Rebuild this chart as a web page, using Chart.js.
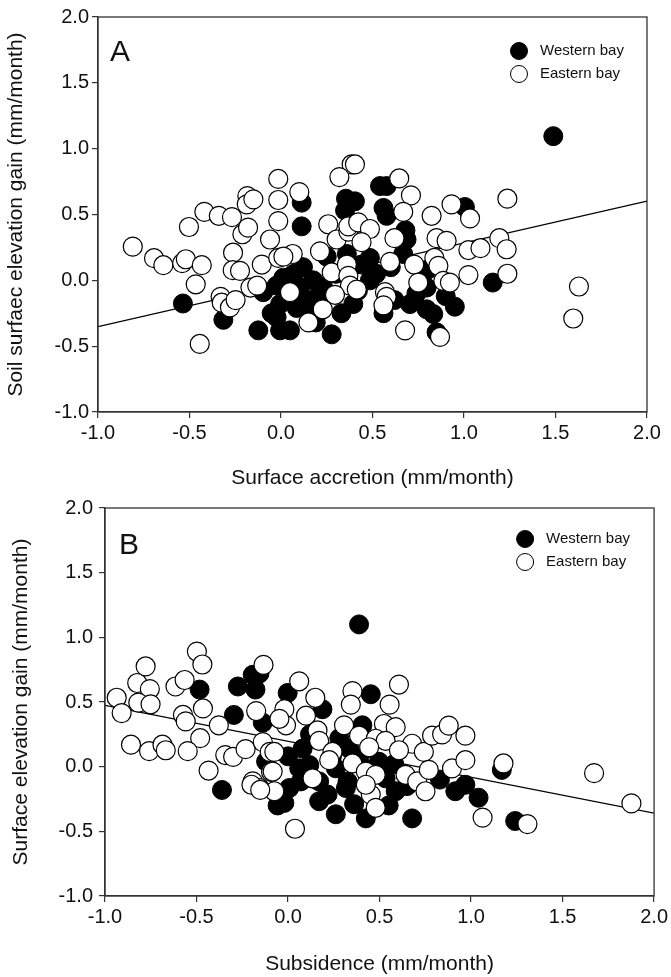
<!DOCTYPE html>
<html>
<head>
<meta charset="utf-8">
<title>Elevation gain scatter</title>
<script src="https://cdn.jsdelivr.net/npm/chart.js@4.4.1/dist/chart.umd.min.js"></script>
<style>
  html, body { margin: 0; padding: 0; background: #fff; }
  body { width: 671px; height: 977px; position: relative; overflow: hidden; }
  .panel { position: absolute; left: 0; width: 671px; }
  #panelA { top: 0; height: 492px; }
  #panelB { top: 490px; height: 487px; }
</style>
</head>
<body>
<div class="panel" id="panelA"><canvas id="chartA" width="671" height="492"></canvas></div>
<div class="panel" id="panelB"><canvas id="chartB" width="671" height="487"></canvas></div>
<script>
// Panel A: surface accretion (x) vs soil surface elevation gain (y)
const westernA = [
  [-0.536, -0.176], [-0.315, -0.30], [-0.124, -0.38], [-0.097, -0.09], [-0.051, -0.25],
  [-0.024, -0.04], [-0.005, -0.38], [0.541, 0.716], [0.577, 0.716], [0.355, 0.62],
  [0.404, 0.60], [0.113, 0.59], [0.56, 0.55], [0.577, 0.49], [0.113, 0.41],
  [0.686, 0.31], [1.005, 0.557], [0.013, 0.02], [0.12, 0.10], [0.176, 0.0],
  [0.104, -0.05], [0.213, -0.10], [-0.005, -0.18], [0.086, -0.21], [0.176, -0.256],
  [0.049, -0.38], [0.277, -0.41], [-0.024, -0.28], [0.395, -0.18], [0.486, 0.17],
  [0.52, 0.05], [0.486, 0.0], [0.668, 0.2], [0.705, -0.18], [0.796, -0.22],
  [0.832, -0.256], [0.85, -0.395], [0.74, -0.10], [0.796, -0.055], [1.488, 1.095],
  [1.157, -0.017], [0.05, -0.12], [0.15, -0.15], [0.23, -0.05], [0.30, 0.05],
  [0.33, -0.25], [0.44, 0.12], [0.60, 0.10], [0.62, -0.15], [0.90, -0.12],
  [0.95, -0.20], [0.25, 0.18], [0.42, -0.08], [0.07, 0.05], [0.19, -0.32],
  [0.56, -0.25], [0.36, 0.20], [0.68, 0.38], [0.80, 0.08], [0.35, 0.53]
];
const easternA = [
  [-0.81, 0.256], [-0.694, 0.168], [-0.643, 0.115], [-0.54, 0.13], [-0.52, 0.16],
  [-0.433, 0.115], [-0.503, 0.405], [-0.419, 0.52], [-0.34, 0.49], [-0.268, 0.48],
  [-0.466, -0.03], [-0.444, -0.483], [-0.33, -0.125], [-0.324, -0.17], [-0.279, -0.206],
  [-0.248, -0.15], [-0.211, 0.35], [-0.18, 0.40], [-0.184, 0.64], [-0.187, 0.577],
  [-0.151, 0.615], [-0.262, 0.21], [-0.264, 0.077], [-0.224, 0.072], [-0.167, -0.055],
  [-0.13, -0.04], [-0.105, 0.12], [-0.06, 0.31], [-0.015, 0.77], [-0.015, 0.61],
  [-0.015, 0.45], [-0.015, 0.17], [0.386, 0.88], [0.404, 0.88], [0.319, 0.784],
  [0.646, 0.774], [0.71, 0.645], [0.668, 0.52], [0.10, 0.67], [0.258, 0.426],
  [0.304, 0.31], [0.368, 0.37], [0.368, 0.41], [0.422, 0.44], [0.486, 0.39],
  [0.44, 0.29], [0.213, 0.22], [0.064, 0.20], [0.013, 0.18], [0.62, 0.32],
  [0.823, 0.49], [0.932, 0.577], [0.85, 0.32], [0.905, 0.30], [0.596, 0.14],
  [0.728, 0.12], [0.838, 0.17], [0.86, 0.11], [0.277, 0.06], [0.36, 0.12],
  [0.368, 0.034], [0.377, -0.04], [0.414, -0.07], [0.295, -0.11], [0.049, -0.09],
  [0.228, -0.22], [0.15, -0.32], [0.568, -0.09], [0.577, -0.125], [0.56, -0.19],
  [0.75, -0.017], [0.887, -0.004], [0.923, -0.017], [0.678, -0.38], [0.869, -0.43],
  [1.237, 0.62], [1.033, 0.47], [1.193, 0.32], [1.024, 0.23], [1.09, 0.244],
  [1.233, 0.236], [1.024, 0.04], [1.237, 0.05], [1.628, -0.047], [1.597, -0.29]
];
const fitA = [[-1, -0.352], [2, 0.602]];

// Panel B: subsidence (x) vs surface elevation gain (y)
const westernB = [
  [-0.483, 0.596], [-0.296, 0.40], [-0.274, 0.62], [-0.193, 0.71], [-0.156, 0.72],
  [-0.178, 0.596], [-0.361, -0.18], [-0.138, 0.34], [-0.12, 0.04], [-0.057, -0.30],
  [0.388, 1.10], [0.452, 0.56], [-0.002, 0.57], [0.188, 0.444], [0.588, -0.19],
  [-0.02, -0.28], [0.261, -0.368], [0.678, -0.40], [0.914, -0.19], [0.08, 0.14],
  [0.061, -0.013], [0.17, -0.114], [0.261, -0.013], [0.316, -0.165], [0.388, 0.063],
  [0.497, 0.038], [0.406, 0.32], [0.17, -0.267], [0.007, -0.165], [0.533, -0.09],
  [0.116, 0.013], [0.334, 0.14], [0.969, -0.14], [1.041, -0.24], [1.241, -0.42],
  [1.168, -0.025], [0.425, -0.40], [0.07, -0.114], [0.216, -0.216], [0.325, -0.114],
  [0.361, -0.29], [0.24, 0.08], [0.46, -0.02], [0.58, 0.02], [0.65, -0.15],
  [0.12, 0.25], [0.28, 0.22], [0.55, -0.30], [0.83, -0.10], [0.0, 0.08]
];
const easternB = [
  [-0.936, 0.533], [-0.909, 0.414], [-0.858, 0.17], [-0.759, 0.12], [-0.686, 0.17],
  [-0.668, 0.127], [-0.824, 0.647], [-0.778, 0.775], [-0.755, 0.60], [-0.818, 0.495],
  [-0.751, 0.482], [-0.615, 0.62], [-0.565, 0.67], [-0.498, 0.89], [-0.468, 0.79],
  [-0.465, 0.45], [-0.574, 0.40], [-0.559, 0.35], [-0.48, 0.22], [-0.548, 0.12],
  [-0.434, -0.03], [-0.378, 0.32], [-0.343, 0.09], [-0.30, 0.076], [-0.232, 0.135],
  [-0.174, 0.43], [-0.134, 0.787], [-0.193, -0.114], [-0.156, -0.165], [-0.138, 0.19],
  [-0.10, 0.114], [-0.093, -0.04], [0.061, 0.66], [0.352, 0.584], [0.343, 0.48],
  [0.606, 0.635], [0.555, 0.48], [0.149, 0.533], [-0.02, 0.444], [-0.011, 0.32],
  [-0.047, 0.37], [0.098, 0.394], [0.161, 0.28], [0.17, 0.2], [0.306, 0.32],
  [0.524, 0.33], [0.588, 0.305], [0.388, 0.24], [0.479, 0.216], [0.533, 0.20],
  [0.443, 0.15], [0.243, 0.114], [0.225, 0.05], [0.678, 0.177], [0.742, 0.114],
  [0.787, 0.24], [0.842, 0.25], [0.878, 0.317], [0.969, 0.24], [0.606, 0.127],
  [0.352, 0.025], [0.425, -0.038], [0.479, -0.063], [0.642, -0.063], [0.706, -0.114],
  [0.751, -0.19], [0.769, -0.025], [0.896, -0.013], [0.969, 0.05], [0.134, -0.09],
  [0.452, -0.216], [0.479, -0.318], [0.425, -0.14], [-0.075, 0.114], [-0.084, -0.038],
  [-0.075, -0.19], [1.063, -0.394], [1.308, -0.444], [1.177, 0.025], [1.672, -0.05],
  [1.876, -0.284], [0.038, -0.48], [-0.20, -0.14], [-0.152, -0.18]
];
const fitB = [[-1, 0.474], [2, -0.36]];

const xTicks = [-1.0, -0.5, 0.0, 0.5, 1.0, 1.5, 2.0];
const yTicks = [-1.0, -0.5, 0.0, 0.5, 1.0, 1.5, 2.0];

const FONT = "'Liberation Sans', Arial, sans-serif";
const INK = '#111';

const toPoints = arr => arr.map(([x, y]) => ({ x, y }));

// frame round the plot, panel letter and the in-plot legend
const panelDecor = {
  id: 'panelDecor',
  afterDraw(chart, args, opts) {
    const { ctx, chartArea: a } = chart;
    ctx.save();
    ctx.strokeStyle = '#333';
    ctx.lineWidth = 1.3;
    ctx.strokeRect(a.left, a.top, a.right - a.left, a.bottom - a.top);

    ctx.fillStyle = INK;
    ctx.font = `30px ${FONT}`;
    ctx.textBaseline = 'middle';
    ctx.textAlign = 'left';
    ctx.fillText(opts.letter, a.left + opts.letterDx, a.top + opts.letterDy);

    ctx.font = `15px ${FONT}`;
    chart.data.datasets.filter(d => d.showInLegend).forEach((d, i) => {
      const cx = a.right - opts.legendDx;
      const cy = a.top + opts.legendDy + i * 23;
      ctx.beginPath();
      ctx.arc(cx, cy, 8.5, 0, Math.PI * 2);
      ctx.fillStyle = d.backgroundColor;
      ctx.fill();
      ctx.lineWidth = 1;
      ctx.strokeStyle = '#000';
      ctx.stroke();
      ctx.fillStyle = INK;
      ctx.fillText(d.label, cx + 21, cy);
    });
    ctx.restore();
  }
};

function makePanel(id, cfg) {
  return new Chart(document.getElementById(id), {
    type: 'scatter',
    data: {
      datasets: [
        {
          label: 'Western bay',
          data: toPoints(cfg.western),
          backgroundColor: '#000',
          borderColor: '#000',
          borderWidth: 1,
          pointRadius: 9.5,
          showInLegend: true,
          order: 2
        },
        {
          label: 'Eastern bay',
          data: toPoints(cfg.eastern),
          backgroundColor: '#fff',
          borderColor: '#000',
          borderWidth: 1.2,
          pointRadius: 9.5,
          showInLegend: true,
          order: 1
        },
        {
          type: 'line',
          label: 'fit',
          data: toPoints(cfg.fit),
          borderColor: '#000',
          borderWidth: 1.2,
          pointRadius: 0,
          fill: false,
          order: 3
        }
      ]
    },
    options: {
      responsive: false,
      animation: false,
      layout: { padding: { top: cfg.padTop, right: cfg.padRight, left: 0, bottom: 0 } },
      plugins: {
        legend: { display: false },
        tooltip: { enabled: false },
        panelDecor: cfg.decor
      },
      scales: {
        x: {
          type: 'linear',
          min: -1,
          max: 2,
          afterBuildTicks: s => { s.ticks = xTicks.map(v => ({ value: v })); },
          afterFit: s => { s.height = cfg.xHeight; },
          ticks: {
            callback: v => v.toFixed(1),
            color: INK,
            font: { family: FONT, size: 20 },
            padding: 3
          },
          grid: { drawOnChartArea: false, tickLength: 6, color: '#333', lineWidth: 1.2 },
          border: { color: '#333', width: 1.3 },
          title: {
            display: true,
            text: cfg.xTitle,
            color: INK,
            font: { family: FONT, size: 21 },
            padding: { top: 0, bottom: cfg.xTitlePad }
          }
        },
        y: {
          type: 'linear',
          min: -1,
          max: 2,
          afterBuildTicks: s => { s.ticks = yTicks.map(v => ({ value: v })); },
          afterFit: s => { s.width = cfg.yWidth; },
          ticks: {
            callback: v => v.toFixed(1),
            color: INK,
            font: { family: FONT, size: 20 },
            padding: cfg.yTickPad
          },
          grid: { drawOnChartArea: false, tickLength: 6, color: '#333', lineWidth: 1.2 },
          border: { color: '#333', width: 1.3 },
          title: {
            display: true,
            text: cfg.yTitle,
            color: INK,
            font: { family: FONT, size: 21 },
            padding: cfg.yTitlePad
          }
        }
      }
    },
    plugins: [panelDecor]
  });
}

makePanel('chartA', {
  western: westernA,
  eastern: easternA,
  fit: fitA,
  xTitle: 'Surface accretion (mm/month)',
  yTitle: 'Soil surfaec elevation gain (mm/month)',
  padTop: 17,
  padRight: 24,
  xHeight: 80,
  yWidth: 98,
  xTitlePad: 1,
  yTitlePad: 4,
  yTickPad: 3,
  decor: { letter: 'A', letterDx: 12, letterDy: 36, legendDx: 128, legendDy: 34 }
});

makePanel('chartB', {
  western: westernB,
  eastern: easternB,
  fit: fitB,
  xTitle: 'Subsidence (mm/month)',
  yTitle: 'Surface elevation gain (mm/month)',
  padTop: 12,
  padRight: 15,
  xHeight: 81,
  yWidth: 105,
  xTitlePad: 0,
  yTitlePad: 9,
  yTickPad: 6,
  decor: { letter: 'B', letterDx: 14, letterDy: 38, legendDx: 129, legendDy: 31 }
});
</script>
</body>
</html>
